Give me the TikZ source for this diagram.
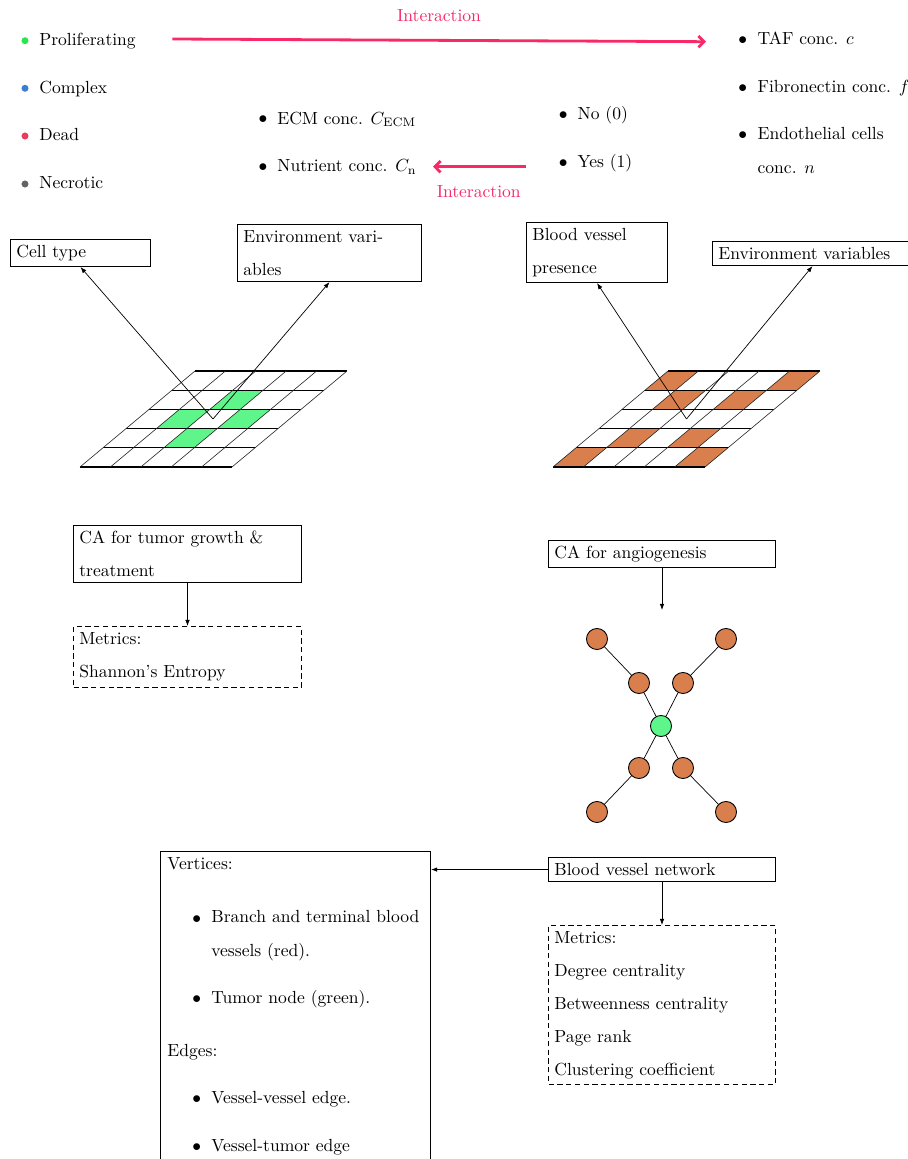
\documentclass[tikz,border=0pt]{standalone}
\usetikzlibrary{arrows.meta}
\definecolor{intpink}{RGB}{247,41,104}
\definecolor{cagreen}{RGB}{94,245,138}
\definecolor{cabrown}{RGB}{217,127,78}
\definecolor{dotgreen}{RGB}{40,230,80}
\definecolor{dotblue}{RGB}{60,125,210}
\definecolor{dotred}{RGB}{232,62,92}
\definecolor{dotgray}{RGB}{100,100,100}
\begin{document}
\begin{tikzpicture}[x=0.57pt,y=-0.57pt,
  txt/.style={anchor=base west, inner sep=0pt},
  bul/.style={anchor=base, inner sep=0pt},
  dot/.style={circle, inner sep=0pt, minimum size=4pt},
  box/.style={draw, line width=0.6pt, rectangle, align=left, inner xsep=3.33pt, inner ysep=1pt,
              font=\fontsize{10}{18.8}\selectfont, anchor=north west},
  dbox/.style={box, dash pattern=on 3pt off 2pt},
  arr/.style={-{Latex[length=3.5pt,width=2.6pt]}},
  iarr/.style={draw=intpink, line width=1.6pt, -{Straight Barb[length=3.2pt,width=6.5pt]}},
  itext/.style={anchor=base, inner sep=0pt, text=intpink},
  gridh/.style={line width=0.6pt},
  gridv/.style={line width=0.35pt, black!85},
  vnode/.style={circle, draw, line width=0.5pt, fill=cabrown, minimum size=12pt, inner sep=0pt},
  tnode/.style={vnode, fill=cagreen}]
\useasboundingbox (0,0) rectangle (907,1159);

% ---- legend: cell types
\node[dot, fill=dotgreen] (d1) at (25,40.7) {};
\node[dot, fill=dotblue]  (d2) at (25,88.3) {};
\node[dot, fill=dotred]   (d3) at (25,136) {};
\node[dot, fill=dotgray]  (d4) at (25,184) {};
\node[txt] (t1) at (39,45.5) {Proliferating};
\node[txt] (t2) at (39,93.1) {Complex};
\node[txt] (t3) at (39,140.8) {Dead};
\node[txt] (t4) at (39,188.8) {Necrotic};

% ---- environment variables (tumor CA)
\node[bul] (b1) at (263,123.4) {$\bullet$};
\node[bul] (b2) at (263,171) {$\bullet$};
\node[txt] (e1) at (277,124) {ECM conc. $C_{\mathrm{ECM}}$};
\node[txt] (e2) at (277,171.7) {Nutrient conc. $C_{\mathrm{n}}$};

% ---- blood vessel presence
\node[bul] (b3) at (563.3,119.4) {$\bullet$};
\node[bul] (b4) at (563.3,167.7) {$\bullet$};
\node[txt] (y1) at (577.3,119.4) {No (0)};
\node[txt] (y2) at (577.3,167.7) {Yes (1)};

% ---- environment variables (angiogenesis)
\node[bul] (b5) at (742.7,44.4) {$\bullet$};
\node[bul] (b6) at (742.7,92) {$\bullet$};
\node[bul] (b7) at (742.7,139.4) {$\bullet$};
\node[txt] (a1) at (757.3,44.4) {TAF conc. $c$};
\node[txt] (a2) at (757.3,92) {Fibronectin conc. $f$};
\node[txt] (a3) at (757.3,139.4) {Endothelial cells};
\node[txt] (a4) at (757.3,173.3) {conc. $n$};

% ---- interaction arrows
\coordinate (ia1) at (172.3,39);
\coordinate (ia2) at (706,41.7);
\coordinate (ib1) at (526,166.7);
\coordinate (ib2) at (433,166.7);
\draw[iarr] (ia1) -- (ia2);
\draw[iarr] (ib1) -- (ib2);
\node[itext] (il1) at (439,22) {Interaction};
\node[itext] (il2) at (478.7,197.7) {Interaction};

% ---- boxes above grids
\node[box, text width=73.1pt, minimum height=15.4pt] (celltype) at (10,239) {Cell type};
\node[box, text width=98.2pt, minimum height=32.5pt] (envL) at (237,224) {Environment vari-\\ables};
\node[box, text width=73.7pt, minimum height=34.2pt] (bvp) at (526,222) {Blood vessel\\presence};
\node[box, text width=107.3pt, minimum height=13.7pt] (envR) at (712,241) {Environment variables};

% ---- left grid (tumor CA)
\foreach \c/\r in {2/1,1/2,3/2,2/3}
  \fill[cagreen] ({80+30.4*\c+23*\r},{467-19.2*\r}) -- ++(30.4,0) -- ++(23,-19.2) -- ++(-30.4,0) -- cycle;
\foreach \r in {0,...,5}
  \draw[gridh] ({80+23*\r},{467-19.2*\r}) -- ++(152,0);
\foreach \c in {0,...,5}
  \draw[gridv] ({80+30.4*\c},467) -- ++(115,-96);

% ---- right grid (angiogenesis CA)
\foreach \c/\r in {0/0,4/0,1/1,3/1,1/3,3/3,0/4,4/4}
  \fill[cabrown] ({553+30.4*\c+23*\r},{467-19.2*\r}) -- ++(30.4,0) -- ++(23,-19.2) -- ++(-30.4,0) -- cycle;
\foreach \r in {0,...,5}
  \draw[gridh] ({553+23*\r},{467-19.2*\r}) -- ++(152,0);
\foreach \c in {0,...,5}
  \draw[gridv] ({553+30.4*\c},467) -- ++(115,-96);

\coordinate (vL) at (213,419);
\coordinate (vR) at (686.5,419);
\draw[arr] (vL) -- (celltype.south);
\draw[arr] (vL) -- (envL.south);
\draw[arr] (vR) -- (bvp.south);
\draw[arr] (vR) -- (envR.south);

% ---- CA boxes
\node[box, text width=123.3pt, minimum height=32.5pt] (caT) at (73,525) {CA for tumor growth \&\\treatment};
\node[dbox, text width=123.3pt, minimum height=34.8pt] (metT) at (73,626) {Metrics:\\Shannon's Entropy};
\draw[arr] (caT.south) -- (metT.north);

\node[box, text width=122.7pt, minimum height=15.4pt] (caA) at (548,540) {CA for angiogenesis};
\coordinate (netin) at (661,610);
\draw[arr] (caA.south) -- (caA.south |- netin);

% ---- network
\node[tnode] (n0) at (661,726) {};
\node[vnode] (m1) at (639,683) {};
\node[vnode] (m2) at (683,683) {};
\node[vnode] (m3) at (639,768) {};
\node[vnode] (m4) at (683,768) {};
\node[vnode] (o1) at (597,639) {};
\node[vnode] (o2) at (726,639) {};
\node[vnode] (o3) at (597,812) {};
\node[vnode] (o4) at (726,812) {};
\foreach \m/\o in {m1/o1,m2/o2,m3/o3,m4/o4}{
  \draw (n0) -- (\m);
  \draw (\m) -- (\o);
}

% ---- bottom boxes
\node[box, text width=122.7pt, minimum height=13.7pt] (bvn) at (548,857) {Blood vessel network};
\node[dbox, text width=122.7pt, minimum height=90.6pt] (metA) at (548,925)
  {Metrics:\\Degree centrality\\Betweenness centrality\\Page rank\\Clustering coefficient};
\draw[arr] (bvn.south) -- (metA.north);

\node[box, minimum width=153.9pt, minimum height=228pt, inner sep=0pt] (vert) at (160,851) {};
\draw[arr] (bvn.west) -- (bvn.west -| vert.east);

\node[txt] (v1) at (167,869) {Vertices:};
\node[bul] (vb1) at (196.7,923) {$\bullet$};
\node[txt] (v2) at (211,922.7) {Branch and terminal blood};
\node[txt] (v3) at (211,956) {vessels (red).};
\node[bul] (vb2) at (196.7,1003) {$\bullet$};
\node[txt] (v4) at (211,1003) {Tumor node (green).};
\node[txt] (v5) at (167,1056.7) {Edges:};
\node[bul] (vb3) at (196.7,1103) {$\bullet$};
\node[txt] (v6) at (211,1103) {Vessel-vessel edge.};
\node[bul] (vb4) at (196.7,1151.7) {$\bullet$};
\node[txt] (v7) at (211,1151.7) {Vessel-tumor edge};
\end{tikzpicture}
\end{document}
